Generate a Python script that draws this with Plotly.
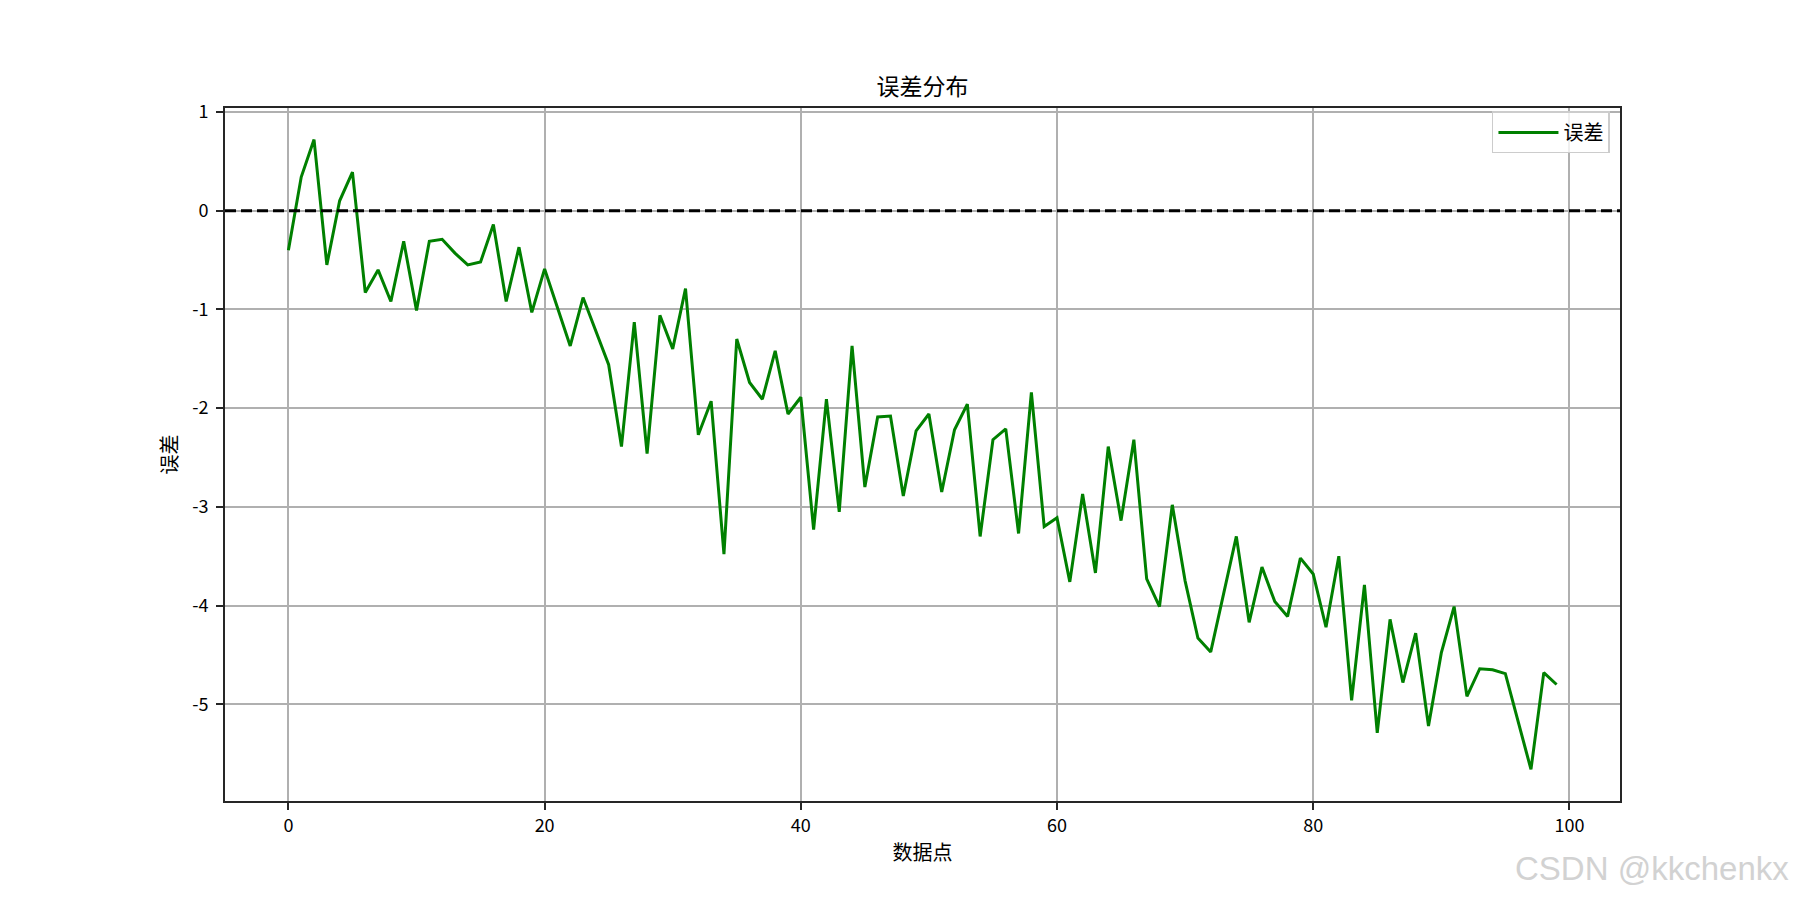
import plotly.graph_objects as go

# error values, index 0..99
idx = list(range(100))
errors = [
    -0.40, 0.34, 0.72, -0.55, 0.10, 0.39, -0.83, -0.60, -0.92, -0.31,
    -1.01, -0.31, -0.29, -0.43, -0.55, -0.52, -0.14, -0.92, -0.37, -1.03,
    -0.59, -0.97, -1.37, -0.88, -1.21, -1.56, -2.39, -1.13, -2.46, -1.06,
    -1.40, -0.79, -2.27, -1.93, -3.48, -1.30, -1.74, -1.91, -1.42, -2.06,
    -1.89, -3.23, -1.91, -3.05, -1.37, -2.80, -2.09, -2.08, -2.89, -2.23,
    -2.06, -2.85, -2.22, -1.96, -3.30, -2.32, -2.21, -3.27, -1.84, -3.20,
    -3.11, -3.76, -2.87, -3.67, -2.39, -3.14, -2.32, -3.73, -4.01, -2.98,
    -3.75, -4.33, -4.47, -3.90, -3.30, -4.17, -3.61, -3.96, -4.11, -3.52,
    -3.68, -4.22, -3.50, -4.96, -3.79, -5.29, -4.14, -4.78, -4.28, -5.22,
    -4.48, -4.01, -4.92, -4.64, -4.65, -4.69, -5.19, -5.66, -4.68, -4.80,
]

x_ticks = [0, 20, 40, 60, 80, 100]
y_ticks = [-5, -4, -3, -2, -1, 0, 1]
y_tick_text = ["-5", "-4", "-3", "-2", "-1", "0", "1"]

font_family = "Noto Sans CJK SC, DejaVu Sans, sans-serif"

# the page body has an 8px margin, so the figure is 16px smaller than the window
W, H = 1784, 884

fig = go.Figure()
fig.add_trace(
    go.Scatter(
        x=idx,
        y=errors,
        mode="lines",
        name="误差",
        line=dict(color="#008000", width=3),
    )
)

# horizontal reference line at zero
fig.add_shape(
    type="line",
    xref="paper", yref="y",
    x0=0, x1=1, y0=0, y1=0,
    line=dict(color="black", width=3, dash="11px,5px"),
)

axis_common = dict(
    showgrid=True,
    gridcolor="#b0b0b0",
    gridwidth=1.6,
    zeroline=False,
    showline=True,
    linecolor="#262626",
    linewidth=1.8,
    mirror=True,
    ticks="outside",
    ticklen=7,
    tickwidth=1.6,
    tickcolor="#262626",
    tickfont=dict(size=18, color="black", family=font_family),
)

fig.update_xaxes(
    range=[-4.95, 103.95],
    tickvals=x_ticks,
    title=dict(text="数据点", font=dict(size=20, color="black"), standoff=10),
    **axis_common
)
fig.update_yaxes(
    range=[-5.98, 1.04],
    tickvals=y_ticks,
    ticktext=y_tick_text,
    ticklabelstandoff=4,
    title=dict(text="误差", font=dict(size=20, color="black"), standoff=9),
    **axis_common
)

fig.update_layout(
    width=W,
    height=H,
    margin=dict(l=217, r=172, t=100, b=91),
    paper_bgcolor="white",
    plot_bgcolor="white",
    font=dict(family=font_family, color="black"),
    title=dict(
        text="误差分布",
        xref="paper", x=0.5, xanchor="center",
        y=1 - 87 / H, yanchor="bottom",
        font=dict(size=23, color="black"),
    ),
    showlegend=True,
    legend=dict(
        x=0.9928, xanchor="right",
        y=0.995, yanchor="top",
        bgcolor="rgba(255,255,255,0.8)",
        bordercolor="#cccccc",
        borderwidth=1.5,
        font=dict(size=20, color="black"),
        itemwidth=60,
    ),
    annotations=[
        dict(
            text="CSDN @kkchenkx",
            xref="paper", yref="paper",
            x=(1783 - 217) / 1395, xanchor="right",
            y=-(860 - 793) / 693, yanchor="middle",
            showarrow=False,
            font=dict(size=33, color="#d2d2d2", family="Liberation Sans, Arial, sans-serif"),
        )
    ],
)

fig.write_html("out.html")
